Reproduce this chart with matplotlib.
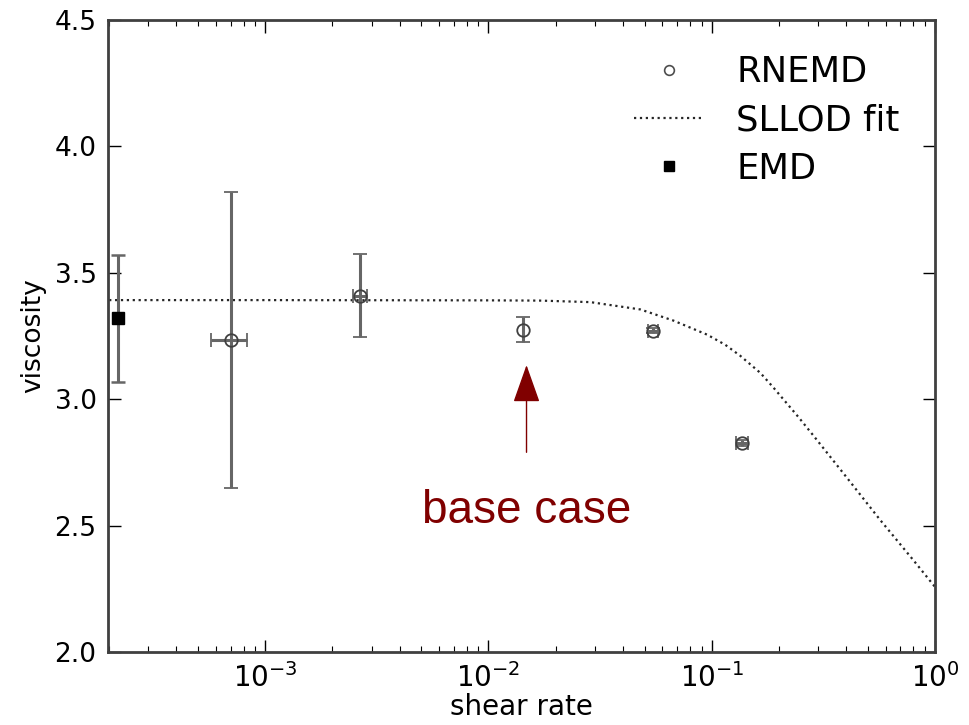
import matplotlib
matplotlib.use("Agg")
import matplotlib.pyplot as plt
from matplotlib.lines import Line2D

plt.rcParams['font.family'] = ['DejaVu Sans']

# RNEMD measurements
rnemd_rate = [7.0e-4, 2.67e-3, 0.0142, 0.0547, 0.137]
rnemd_visc = [3.235, 3.41, 3.275, 3.27, 2.825]
rnemd_verr = [0.585, 0.163, 0.05, 0.01, 0.012]
rnemd_rerr = [1.3e-4, 2.0e-4, 0.0, 0.003, 0.008]

# equilibrium MD value
emd_rate = [2.2e-4]
emd_visc = [3.32]
emd_verr = [0.25]

# SLLOD fit curve
sllod_rate = [2.0e-4, 1e-3, 1e-2, 0.0171, 0.0286, 0.0479, 0.0673, 0.0955, 0.115,
              0.134, 0.165, 0.188, 0.244, 0.284, 0.404, 0.568, 0.798, 1.0]
sllod_visc = [3.392, 3.392, 3.391, 3.390, 3.384, 3.355, 3.311, 3.255, 3.215,
              3.172, 3.104, 3.048, 2.930, 2.858, 2.688, 2.522, 2.364, 2.257]

base_case_rate = 0.0148
base_case_tail = 2.79
base_case_tip = 3.135

fig = plt.figure(figsize=(9.7, 7.25), dpi=100)
ax = fig.add_axes([0.111, 0.1007, 0.853, 0.8717])

ax.plot(sllod_rate, sllod_visc, linestyle=':', color='0.15', lw=1.6,
        label='SLLOD fit', zorder=2)
ax.errorbar(rnemd_rate, rnemd_visc, yerr=rnemd_verr, xerr=rnemd_rerr,
            fmt='o', ms=9, mfc='none', mec='0.25', mew=1.3,
            ecolor='0.4', elinewidth=2.2, capsize=5, capthick=1.8,
            label='RNEMD', zorder=3)
ax.errorbar(emd_rate, emd_visc, yerr=emd_verr, fmt='s', ms=8,
            mfc='black', mec='black', ecolor='0.4', elinewidth=2.2,
            capsize=5, capthick=1.8, label='EMD', zorder=3)

ax.annotate('', xy=(base_case_rate, base_case_tip),
            xytext=(base_case_rate, base_case_tail),
            arrowprops=dict(arrowstyle='-|>,head_length=2.4,head_width=0.85',
                            color='#800000', lw=1.0, shrinkA=0, shrinkB=0))
ax.text(base_case_rate, 2.51, 'base case', color='#800000', fontsize=33,
        family=['Liberation Sans', 'DejaVu Sans'], ha='center', va='baseline')

ax.set_xscale('log')
ax.set_xlim(1.97e-4, 1.0)
ax.set_ylim(2.0, 4.5)
ax.set_yticks([2.0, 2.5, 3.0, 3.5, 4.0, 4.5])
ax.set_yticklabels(['2.0', '2.5', '3.0', '3.5', '4.0', '4.5'])

ax.set_xlabel('shear rate', fontsize=20, labelpad=0)
ax.set_ylabel('viscosity', fontsize=19, labelpad=6)

ax.tick_params(which='both', direction='in', top=True, right=True)
ax.tick_params(which='major', length=9, width=1.0, labelsize=19, pad=8)
ax.tick_params(axis='x', which='major', labelsize=20)
ax.tick_params(which='minor', length=4, width=0.8)
for s in ax.spines.values():
    s.set_linewidth(2.0)
    s.set_color('0.25')

handles, labels = ax.get_legend_handles_labels()
h = [Line2D([], [], marker='o', ls='none', ms=7, mfc='none', mec='0.3', mew=1.2),
     handles[labels.index('SLLOD fit')],
     Line2D([], [], marker='s', ls='none', ms=7, mfc='black', mec='black')]
l = ['RNEMD', 'SLLOD fit', 'EMD']
ax.legend(h, l, loc='upper right', frameon=False, fontsize=25.5,
          handlelength=2.0, handletextpad=0.9, labelspacing=0.4,
          borderaxespad=0.6)

fig.savefig('out.png', dpi=100)
